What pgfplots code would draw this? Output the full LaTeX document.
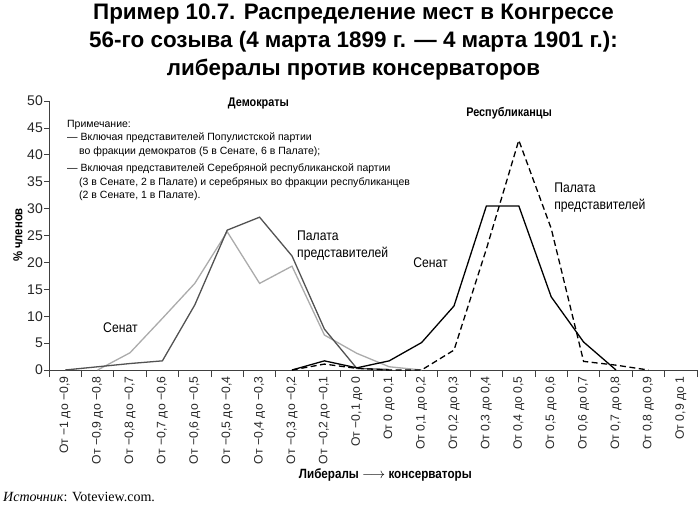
\documentclass[border=0pt]{standalone}
\usepackage{fontspec}
\setmainfont{Liberation Sans}
\newfontfamily\narrow{Liberation Sans}[FakeStretch=0.87]
\newfontfamily\titlefont{Liberation Sans}[FakeStretch=1.0]
\newfontfamily\tnr{Liberation Serif}
\usepackage{pgfplots}
\pgfplotsset{compat=1.18}

\pgfplotstableread{
x y
0 0
1 0.6
2 1.2
3 1.7
4 12.1
5 26.0
6 28.4
7 21.2
8 7.6
9 0.3
10 0.1
}\demhouse
\pgfplotstableread{
x y
1 0
2 3.2
3 9.6
4 16.1
5 25.7
6 16.1
7 19.3
8 6.5
9 3.1
10 0.6
11 0
}\demsenate
\pgfplotstableread{
x y
7 0
8 1.7
9 0.4
10 1.7
11 5.1
12 11.9
13 30.5
14 30.5
15 13.6
16 5.2
17 0
}\repsenate
\pgfplotstableread{
x y
7 0
8 1.1
9 0.3
10 0
11 0
12 3.7
13 22.5
14 42.7
15 26.3
16 1.6
17 0.9
18 0
}\rephouse

\begin{document}
\begin{tikzpicture}
\useasboundingbox (-49bp,-135bp) rectangle (651bp,370bp);
% title
\begin{scope}[every node/.style={anchor=base, inner sep=0pt, font=\titlefont\bfseries\fontsize{22.4bp}{26bp}\selectfont}]
\node at (304.5bp,350bp) {Пример 10.7. Распределение мест в Конгрессе};
\node at (304.5bp,322bp) {56-го созыва (4 марта 1899 г. — 4 марта 1901 г.):};
\node at (304.5bp,294bp) {либералы против консерваторов};
\end{scope}
% notes
\begin{scope}[every node/.style={anchor=base west, inner sep=0pt, font=\fontsize{10.5bp}{12bp}\selectfont}]
\node at (18bp,242.3bp) {Примечание:};
\node at (18bp,229bp) {— Включая представителей Популистской партии};
\node at (30bp,215.3bp) {во фракции демократов (5 в Сенате, 6 в Палате);};
\node at (18bp,198.3bp) {— Включая представителей Серебряной республиканской партии};
\node at (30bp,184.7bp) {(3 в Сенате, 2 в Палате) и серебряных во фракции республиканцев};
\node at (30bp,171bp) {(2 в Сенате, 1 в Палате).};
\end{scope}
% source
\node[anchor=base west, inner sep=0pt, font=\tnr\fontsize{14bp}{16bp}\selectfont] at (-46bp,-131.7bp) {\textit{Источник}: Voteview.com.};
\begin{axis}[
 at={(0,0)}, anchor=south west,
 scale only axis, width=648bp, height=269bp,
 xmin=-0.5, xmax=19.5, ymin=0, ymax=50,
 axis x line=bottom, axis y line=left,
 axis line style={-, black!75, line width=0.8bp},
 clip=false,
 ytick={0,5,...,50},
 xtick={0,...,19},
 xticklabels={{От −1 до −0,9},{От −0,9 до −0,8},{От −0,8 до −0,7},{От −0,7 до −0,6},{От −0,6 до −0,5},{От −0,5 до −0,4},{От −0,4 до −0,3},{От −0,3 до −0,2},{От −0,2 до −0,1},{От −0,1 до 0},{От 0 до 0,1},{От 0,1 до 0,2},{От 0,2 до 0,3},{От 0,3 до 0,4},{От 0,4 до 0,5},{От 0,5 до 0,6},{От 0,6 до 0,7},{От 0,7 до 0,8},{От 0,8 до 0,9},{От 0,9 до 1}},
 minor xtick={-0.5,0.5,...,19.5},
 major x tick style={draw=none},
 minor x tick style={black!75, line width=0.8bp},
 major y tick style={black!75, line width=0.8bp},
 tick align=outside,
 major tick length=5bp, minor tick length=7bp,
 /pgf/number format/assume math mode=true,
 yticklabel style={font=\fontsize{14bp}{16bp}\selectfont, inner sep=1bp, text=black!85},
 xticklabel style={font=\fontsize{12.2bp}{14bp}\selectfont, rotate=90, anchor=east, inner sep=1.5bp, text=black!85},
 ylabel={\% членов},
 every axis y label/.style={at={(axis description cs:0,0.502)}, xshift=-31bp, rotate=90, anchor=center, font=\narrow\bfseries\fontsize{13bp}{15bp}\selectfont},
 xlabel={Либералы $\longrightarrow$ консерваторы},
 every axis x label/.style={at={(axis description cs:0.519,0)}, yshift=-104.5bp, anchor=center, font=\narrow\bfseries\fontsize{13.4bp}{15bp}\selectfont},
]
\addplot[black!33, line width=1.3bp] table[x=x,y=y] {\demsenate};
\addplot[black!68, line width=1.3bp] table[x=x,y=y] {\demhouse};
\addplot[black, line width=1.3bp] table[x=x,y=y] {\repsenate};
\addplot[black, line width=1.3bp, dash pattern=on 6bp off 3.5bp] table[x=x,y=y] {\rephouse};
\begin{scope}[every node/.style={anchor=base west, inner sep=0pt, font=\narrow\fontsize{14bp}{16bp}\selectfont}]
\node at (axis cs:7.154,24.16) {Палата};
\node at (axis cs:7.154,21.0) {представителей};
\node at (axis cs:15.09,32.96) {Палата};
\node at (axis cs:15.09,29.87) {представителей};
\node at (axis cs:1.167,6.94) {Сенат};
\node at (axis cs:10.74,19.0) {Сенат};
\end{scope}
\node[anchor=center, inner sep=0pt, font=\narrow\bfseries\fontsize{12.5bp}{14bp}\selectfont] at (axis cs:5.966,49.6) {Демократы};
\node[anchor=center, inner sep=0pt, font=\narrow\bfseries\fontsize{12.5bp}{14bp}\selectfont] at (axis cs:13.7,47.8) {Республиканцы};
\end{axis}
\end{tikzpicture}
\end{document}
